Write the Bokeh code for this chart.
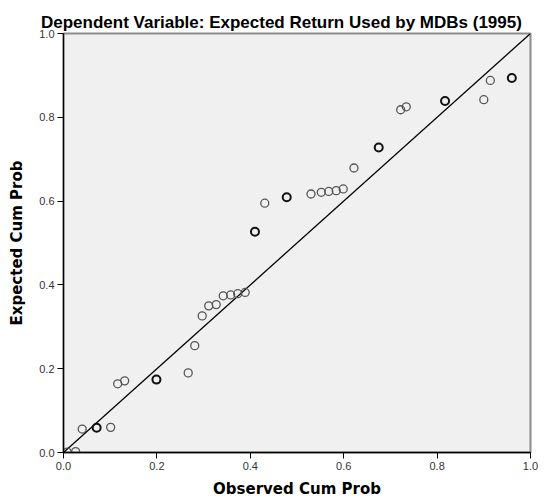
from bokeh.plotting import figure
from bokeh.models import Range1d, FixedTicker, NumeralTickFormatter, ColumnDataSource
from bokeh.embed import file_html
from bokeh.resources import INLINE

# Observed vs expected cumulative probabilities
observed = [0.008, 0.026, 0.040, 0.071, 0.101, 0.116, 0.131, 0.199, 0.267, 0.281,
            0.297, 0.311, 0.327, 0.342, 0.358, 0.373, 0.389, 0.410, 0.431, 0.478,
            0.530, 0.552, 0.568, 0.584, 0.599, 0.622, 0.675, 0.722, 0.734, 0.817,
            0.900, 0.914, 0.960]
expected = [0.001, 0.002, 0.056, 0.059, 0.060, 0.164, 0.171, 0.174, 0.190, 0.255,
            0.326, 0.350, 0.353, 0.374, 0.376, 0.379, 0.382, 0.527, 0.595, 0.609,
            0.617, 0.621, 0.623, 0.625, 0.629, 0.679, 0.728, 0.818, 0.825, 0.839,
            0.842, 0.888, 0.894]
# points where two cases overlap (drawn darker)
overlap = [False, False, False, True, False, False, False, True, False, False,
           False, False, False, False, False, False, False, True, False, True,
           False, False, False, False, False, False, True, False, False, True,
           False, False, True]
ref_line = [0.0, 1.0]
tick_values = [0.0, 0.2, 0.4, 0.6, 0.8, 1.0]

title = "Dependent Variable: Expected Return Used by MDBs (1995)"
x_label = "Observed Cum Prob"
y_label = "Expected Cum Prob"

p = figure(width=540, height=500, output_backend="svg", toolbar_location=None,
           x_range=Range1d(0, 1), y_range=Range1d(0, 1),
           min_border_left=63, min_border_right=10, min_border_top=33, min_border_bottom=47)

p.title.text = title
p.title.text_font = "Liberation Sans"
p.title.text_font_size = "17px"
p.title.text_font_style = "bold"
p.title.text_color = "#000000"
p.title.align = "left"
p.title.offset = -22.5
p.title.standoff = 3

p.background_fill_color = "#f0f0f0"
p.border_fill_color = "white"
p.outline_line_color = "#8c8c8c"
p.outline_line_width = 2
p.xgrid.visible = False
p.ygrid.visible = False

for ax in (p.xaxis[0], p.yaxis[0]):
    ax.ticker = FixedTicker(ticks=tick_values)
    ax.formatter = NumeralTickFormatter(format="0.0")
    ax.major_tick_in = 0
    ax.major_tick_out = 6
    ax.minor_tick_in = 0
    ax.minor_tick_out = 0
    ax.axis_line_color = "black"
    ax.axis_line_width = 1.3
    ax.major_tick_line_color = "black"
    ax.major_label_text_font = "Liberation Sans"
    ax.major_label_text_font_size = "11px"
    ax.major_label_text_color = "#333333"
    ax.major_label_standoff = 3
    ax.axis_label_text_font = "DejaVu Sans"
    ax.axis_label_text_font_size = "15px"
    ax.axis_label_text_font_style = "bold"
    ax.axis_label_text_color = "#000000"
    ax.axis_label_standoff = 7

p.yaxis.axis_label_standoff = 10
p.xaxis.axis_label = x_label
p.yaxis.axis_label = y_label

p.line(ref_line, ref_line, line_color="black", line_width=1.3)

src_single = ColumnDataSource(dict(
    x=[o for o, b in zip(observed, overlap) if not b],
    y=[e for e, b in zip(expected, overlap) if not b]))
src_double = ColumnDataSource(dict(
    x=[o for o, b in zip(observed, overlap) if b],
    y=[e for e, b in zip(expected, overlap) if b]))

p.scatter("x", "y", source=src_single, marker="circle", size=8,
          fill_color=None, line_color="#555555", line_width=1.3)
p.scatter("x", "y", source=src_double, marker="circle", size=8,
          fill_color=None, line_color="#111111", line_width=2)

open("out.html", "w").write(file_html(p, INLINE))
